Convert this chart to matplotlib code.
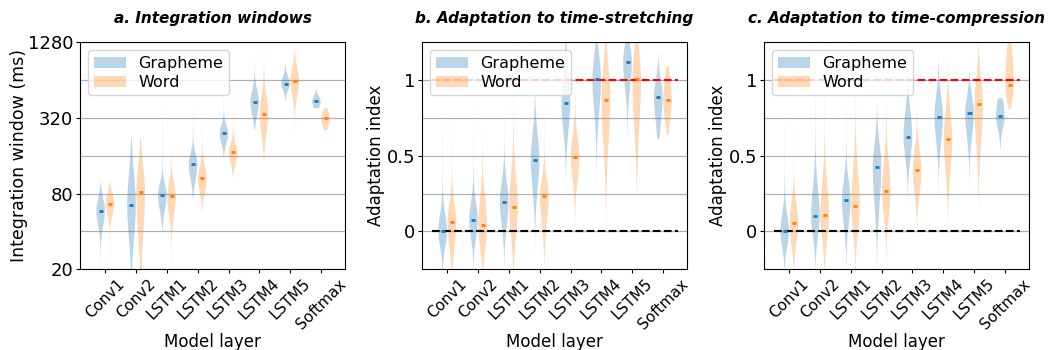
import numpy as np
import matplotlib
matplotlib.use('Agg')
import matplotlib.pyplot as plt
import matplotlib.patches as mpatches

layers = ['Conv1', 'Conv2', 'LSTM1', 'LSTM2', 'LSTM3', 'LSTM4', 'LSTM5', 'Softmax']
groups = ['Grapheme', 'Word']

## a. integration windows (ms): median, body range, tail range
iw_g_med = [58.5, 65, 78.5, 137, 241, 425, 597, 434]
iw_g_blo = [35, 20, 45, 80, 170, 270, 470, 330]
iw_g_bhi = [90, 200, 115, 200, 320, 650, 780, 520]
iw_g_tlo = [12, 10, 40, 72, 155, 255, 420, 382]
iw_g_thi = [100, 225, 600, 600, 640, 1100, 880, 545]

iw_w_med = [66, 82.5, 76, 107, 171, 343, 631, 318]
iw_w_blo = [45, 18, 40, 65, 115, 170, 380, 230]
iw_w_bhi = [95, 210, 120, 160, 230, 650, 1000, 420]
iw_w_tlo = [12, 10, 15, 58, 108, 145, 205, 256]
iw_w_thi = [100, 225, 230, 420, 680, 1400, 1200, 382]

## b. adaptation to time-stretching
st_g_med = [0.0, 0.075, 0.194, 0.472, 0.846, 1.01, 1.12, 0.89]
st_g_blo = [-0.2, -0.15, -0.1, 0.1, 0.5, 0.6, 0.8, 0.55]
st_g_bhi = [0.22, 0.3, 0.45, 0.8, 1.25, 1.3, 1.35, 1.1]
st_g_tlo = [-0.4, -0.4, -0.26, -0.17, 0.23, 0.2, 0.46, 0.61]
st_g_thi = [0.86, 0.88, 0.88, 1.3, 1.3, 1.35, 1.4, 1.18]

st_w_med = [0.062, 0.044, 0.159, 0.232, 0.495, 0.87, 1.01, 0.866]
st_w_blo = [-0.25, -0.25, -0.2, -0.1, 0.2, 0.3, 0.4, 0.6]
st_w_bhi = [0.3, 0.38, 0.55, 0.45, 0.75, 1.3, 1.35, 1.15]
st_w_tlo = [-0.4, -0.4, -0.4, -0.3, -0.04, -0.13, 0.27, 0.64]
st_w_thi = [0.79, 0.81, 1.3, 0.97, 1.17, 1.3, 1.4, 1.09]

## c. adaptation to time-compression
cp_g_med = [0.0, 0.10, 0.207, 0.426, 0.627, 0.757, 0.78, 0.762]
cp_g_blo = [-0.2, -0.15, -0.1, -0.05, 0.35, 0.45, 0.48, 0.6]
cp_g_bhi = [0.22, 0.45, 0.45, 0.72, 0.95, 1.02, 1.0, 1.0]
cp_g_tlo = [-0.4, -0.4, -0.24, -0.3, 0.15, 0.22, 0.27, 0.54]
cp_g_thi = [0.84, 1.3, 1.0, 0.93, 1.2, 1.16, 1.05, 0.88]

cp_w_med = [0.053, 0.11, 0.168, 0.27, 0.404, 0.614, 0.84, 0.965]
cp_w_blo = [-0.2, -0.2, -0.15, -0.05, 0.12, 0.22, 0.35, 0.75]
cp_w_bhi = [0.3, 0.5, 0.6, 0.62, 0.66, 0.95, 1.15, 1.4]
cp_w_tlo = [-0.4, -0.4, -0.4, -0.4, -0.05, -0.11, 0.15, 0.81]
cp_w_thi = [0.73, 1.3, 1.3, 0.97, 0.97, 1.17, 1.3, 1.4]

plt.rcParams['font.family'] = 'DejaVu Sans'
plt.rcParams['font.size'] = 12

colors = ['#1f77b4', '#ff7f0e']
offsets = [-0.15, 0.15]
x = np.arange(1, len(layers) + 1)


def vstats(med, blo, bhi, tlo, thi, log=False):
    # density outline: asymmetric bump around the median plus thin tails
    f = np.log2 if log else (lambda v: v)
    m, a, b, lo, hi = f(med), f(blo), f(bhi), f(tlo), f(thi)
    t = np.linspace(lo, hi, 400)
    s = np.where(t < m, (m - a) / 2.0, (b - m) / 2.0)
    core = np.exp(-0.5 * ((t - m) / s) ** 2)
    tail = np.where(t < m, (t - lo) / (m - lo), (hi - t) / (hi - m))
    vals = core + 0.05 * np.clip(tail, 0, 1)
    coords = 2 ** t if log else t
    return dict(coords=coords, vals=vals, mean=med, median=med, min=tlo, max=thi)


def draw_panel(ax, series, log=False):
    for k, (med, blo, bhi, tlo, thi) in enumerate(series):
        stats = [vstats(*v, log=log) for v in zip(med, blo, bhi, tlo, thi)]
        pos = x + offsets[k]
        parts = ax.violin(stats, positions=pos, widths=0.28, showmeans=False,
                          showextrema=False, showmedians=False)
        for body in parts['bodies']:
            body.set_facecolor(colors[k])
            body.set_edgecolor('none')
            body.set_alpha(0.3)
        ax.hlines(med, pos - 0.065, pos + 0.065, color=colors[k], lw=2, zorder=4)
    ax.set_xticks(x)
    ax.set_xticklabels(layers, rotation=45, fontsize=11)
    ax.set_xlim(0.18, 8.78)
    ax.set_xlabel('Model layer', labelpad=1)
    ax.set_axisbelow(True)
    ax.grid(True, axis='y', which='both', color='#b0b0b0', lw=0.9)
    ax.tick_params(axis='y', which='major', labelsize=13, length=3, pad=2)
    ax.tick_params(axis='x', length=3, pad=2)
    handles = [mpatches.Patch(facecolor=c, alpha=0.3, edgecolor='none') for c in colors]
    ax.legend(handles, groups, loc='upper left', fontsize=11.5, labelspacing=0.25,
              borderpad=0.35)


fig = plt.figure(figsize=(10.49, 3.5), dpi=100)
bottom, height, width = 0.2306, 0.6486, 0.2526
title_kw = dict(fontsize=11, fontweight='bold', fontstyle='italic', pad=14)

ax1 = fig.add_axes([0.0763, bottom, width, height])
draw_panel(ax1, [(iw_g_med, iw_g_blo, iw_g_bhi, iw_g_tlo, iw_g_thi),
                 (iw_w_med, iw_w_blo, iw_w_bhi, iw_w_tlo, iw_w_thi)], log=True)
ax1.set_yscale('log', base=2)
ax1.set_ylim(20, 1280)
ax1.set_yticks([20, 80, 320, 1280])
ax1.set_yticklabels(['20', '80', '320', '1280'])
ax1.set_yticks([40, 160, 640], minor=True)
ax1.set_yticklabels([], minor=True)
ax1.tick_params(axis='y', which='minor', length=0)
ax1.set_ylabel('Integration window (ms)', fontsize=12.5, labelpad=0)
ax1.set_title('a. Integration windows', **title_kw)

ax2 = fig.add_axes([0.4023, bottom, width, height])
draw_panel(ax2, [(st_g_med, st_g_blo, st_g_bhi, st_g_tlo, st_g_thi),
                 (st_w_med, st_w_blo, st_w_bhi, st_w_tlo, st_w_thi)])
ax2.set_title('b. Adaptation to time-stretching', **title_kw)

ax3 = fig.add_axes([0.7283, bottom, width, height])
draw_panel(ax3, [(cp_g_med, cp_g_blo, cp_g_bhi, cp_g_tlo, cp_g_thi),
                 (cp_w_med, cp_w_blo, cp_w_bhi, cp_w_tlo, cp_w_thi)])
ax3.set_title('c. Adaptation to time-compression', **title_kw)

for ax in (ax2, ax3):
    ax.set_ylim(-0.25, 1.25)
    ax.set_yticks([0, 0.5, 1])
    ax.set_yticklabels(['0', '0.5', '1'])
    ax.set_yticks([0.25, 0.75], minor=True)
    ax.tick_params(axis='y', which='minor', length=0)
    ax.set_ylabel('Adaptation index', labelpad=1)
    ax.hlines(0, 0.5, 8.5, color='black', linestyle='--', lw=1.5, zorder=3)
    ax.hlines(1, 0.5, 8.5, color='red', linestyle='--', lw=1.5, zorder=3)

fig.savefig('out.png', dpi=100)
